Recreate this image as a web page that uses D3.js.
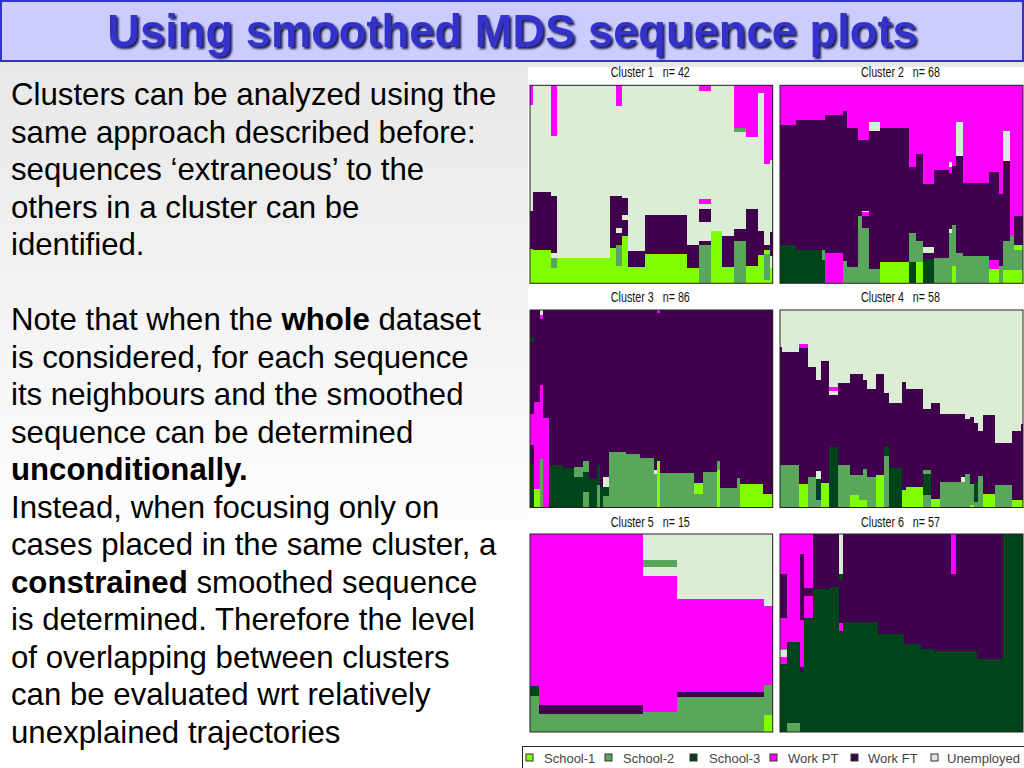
<!DOCTYPE html>
<html>
<head>
<meta charset="utf-8">
<script src="https://d3js.org/d3.v7.min.js"></script>
<style>
html,body{margin:0;padding:0;background:#fff;overflow:hidden}
svg{display:block}
</style>
</head>
<body>
<div id="chart"></div>
<script>
const titleText = "Using smoothed MDS sequence plots";
const bodyLines = [
  [["Clusters can be analyzed using the"]],
  [["same approach described before:"]],
  [["sequences ‘extraneous’ to the"]],
  [["others in a cluster can be"]],
  [["identified."]],
  [],
  [["Note that when the "],["whole",1],[" dataset"]],
  [["is considered, for each sequence"]],
  [["its neighbours and the smoothed"]],
  [["sequence can be determined"]],
  [["unconditionally.",1]],
  [["Instead, when focusing only on"]],
  [["cases placed in the same cluster, a"]],
  [["constrained",1],[" smoothed sequence"]],
  [["is determined. Therefore the level"]],
  [["of overlapping between clusters"]],
  [["can be evaluated wrt relatively"]],
  [["unexplained trajectories"]]
];

const stateKeys = ["A","B","C","P","F","U"];
const stateLabels = ["School-1","School-2","School-3","Work PT","Work FT","Unemployed"];
const stateColors = ["#7fff00","#5aa75c","#00441b","#ff00ff","#41004d","#dcedd6"];
const sequenceLength = 198;

const clusterIds = [1,2,3,4,5,6];
const clusterSizes = [42,68,86,58,15,57];

// Each run: [number of cases, state, cumulative top, state, cumulative top, ..., last state up to the end]
const cluster1Runs = [
  [1,"A",34,"F",72,"U",178,"P"],
  [3,"A",33,"F",91,"U"],
  [1,"A",15,"B",25,"U",30,"F",87,"U",147,"P"],
  [9,"A",25,"U"],
  [1,"A",35,"F",87,"U"],
  [1,"A",17,"B",38,"F",50,"U",55,"F",87,"U",177,"P"],
  [1,"A",47,"F",63,"U",68,"F",85,"U"],
  [3,"A",16,"F",32,"U"],
  [7,"A",29,"F",68,"U"],
  [2,"A",15,"F",38,"U"],
  [2,"B",38,"F",42,"U",61,"F",74,"U",79,"P",84,"U",192,"P"],
  [2,"A",52,"U"],
  [2,"A",16,"F",47,"U"],
  [2,"B",42,"F",54,"U",151,"B",155,"P"],
  [2,"A",17,"F",74,"U",146,"P"],
  [1,"A",28,"F",52,"U",190,"P"],
  [1,"A",3,"B",29,"A",33,"F",38,"U",119,"P"],
  [1,"A",15,"U",27,"F",51,"U",123,"P"]
];
const cluster2Runs = [
  [5,"C",38,"F",158,"P"],
  [7,"C",33,"F",163,"P"],
  [1,"C",23,"B",33,"F",163,"P"],
  [5,"P",30,"F",168,"P"],
  [1,"B",22,"F",172,"P"],
  [3,"B",16,"F",155,"P"],
  [1,"B",67,"F",143,"P"],
  [2,"B",55,"F",67,"P",71,"U",72,"F",143,"P"],
  [3,"B",14,"F",152,"U",161,"P"],
  [8,"A",21,"F",155,"P"],
  [2,"C",21,"B",50,"F",116,"P"],
  [2,"A",21,"B",42,"F",129,"P"],
  [3,"C",24,"F",30,"U",36,"F",99,"P"],
  [4,"B",25,"F",113,"P"],
  [1,"B",50,"U",54,"F",110,"P",116,"U",121,"P"],
  [1,"A",17,"B",58,"F",117,"P"],
  [2,"B",30,"F",127,"U",161,"P"],
  [7,"B",27,"F",100,"P"],
  [3,"A",14,"P",23,"F",111,"P"],
  [1,"B",17,"F",89,"P"],
  [2,"A",13,"B",42,"F",122,"U",152,"P"],
  [1,"A",13,"B",47,"P"],
  [3,"A",13,"B",33,"A",38,"F",67,"P"]
];
const cluster3Runs = [
  [2,"C",44,"F",63,"P",94,"F",166,"C",171,"F"],
  [2,"A",19,"P",106,"F"],
  [1,"B",49,"P",123,"F",189,"P",193,"U"],
  [2,"P",90,"F"],
  [5,"C",43,"F"],
  [4,"C",40,"F"],
  [3,"C",31,"B",41,"F"],
  [2,"B",16,"C",36,"B",47,"F"],
  [3,"C",29,"F"],
  [1,"B",23,"C",43,"F"],
  [1,"C",21,"F"],
  [2,"B",12,"C",21,"U",31,"F"],
  [6,"B",56,"F"],
  [5,"B",54,"F"],
  [5,"B",50,"F"],
  [1,"B",34,"U",38,"F"],
  [1,"A",47,"F",195,"P"],
  [12,"B",35,"F"],
  [3,"B",14,"A",25,"F"],
  [5,"B",36,"F"],
  [1,"A",38,"B",47,"F"],
  [6,"B",20,"F"],
  [1,"B",30,"F"],
  [8,"A",24,"F"],
  [4,"A",14,"F"]
];
const cluster4Runs = [
  [1,"B",43,"F",161,"U"],
  [4,"B",43,"F",156,"U"],
  [2,"A",24,"F",160,"P",164,"U"],
  [2,"B",31,"F",141,"U"],
  [1,"B",8,"C",29,"U",37,"F",128,"U"],
  [2,"A",25,"F",147,"U"],
  [2,"C",61,"F",113,"U",117,"P",121,"U"],
  [3,"B",43,"F",125,"U"],
  [2,"A",13,"B",33,"F",134,"U"],
  [1,"A",8,"B",33,"F",134,"U"],
  [1,"A",8,"B",39,"F",128,"U"],
  [2,"B",31,"F",119,"U"],
  [2,"A",33,"F",134,"U"],
  [1,"B",52,"C",62,"F",115,"U"],
  [3,"C",40,"F",105,"U"],
  [1,"A",18,"F",126,"U"],
  [4,"A",21,"F",119,"U"],
  [2,"B",13,"C",34,"B",38,"F",99,"U"],
  [2,"A",9,"F",105,"U"],
  [5,"B",26,"F",94,"U"],
  [1,"B",26,"U",31,"F",94,"U"],
  [1,"B",34,"F",89,"U"],
  [1,"A",3,"B",24,"F",91,"U"],
  [1,"B",6,"C",26,"F",85,"U"],
  [1,"B",32,"F",77,"U"],
  [3,"A",14,"F",93,"U"],
  [4,"B",23,"F",65,"U"],
  [2,"A",8,"F",77,"U"],
  [1,"A",8,"F",84,"U"]
];
const cluster5Runs = [
  [1,"B",36,"C",46,"P"],
  [6,"B",18,"F",27,"P"],
  [2,"B",20,"P",156,"U",165,"B",172,"U"],
  [5,"B",35,"F",40,"P",133,"U"],
  [1,"A",17,"B",47,"P",126,"U"]
];
const cluster6Runs = [
  [2,"C",68,"P",75,"U",82,"B",83,"P",114,"F",158,"P"],
  [3,"B",9,"C",90,"P"],
  [1,"C",60,"F",65,"P",112,"F",178,"P"],
  [2,"C",114,"P",136,"F",144,"P"],
  [4,"C",143,"F"],
  [2,"C",145,"F"],
  [1,"C",101,"P",109,"F",152,"C",158,"U"],
  [8,"C",110,"F"],
  [6,"C",98,"F"],
  [4,"C",88,"F"],
  [3,"C",83,"F"],
  [4,"C",81,"F"],
  [1,"C",81,"F",158,"P"],
  [5,"C",81,"F"],
  [6,"C",73,"F"],
  [5,"C"]
];
const clusterRuns = [cluster1Runs,cluster2Runs,cluster3Runs,cluster4Runs,cluster5Runs,cluster6Runs];

const W = 1024, H = 768;
const svg = d3.select("#chart").append("svg").attr("width",W).attr("height",H).attr("viewBox",[0,0,W,H]);

const defs = svg.append("defs");
const grad = defs.append("linearGradient").attr("id","slideBg").attr("x1",0).attr("x2",0).attr("y1",0).attr("y2",1);
grad.append("stop").attr("offset",0).attr("stop-color","#e8e8e8");
grad.append("stop").attr("offset",0.72).attr("stop-color","#ffffff");
grad.append("stop").attr("offset",1).attr("stop-color","#ffffff");

svg.append("rect").attr("x",0).attr("y",62).attr("width",W).attr("height",H-62).attr("fill","url(#slideBg)");

// Title bar
svg.append("rect").attr("x",1).attr("y",1).attr("width",W-2).attr("height",60)
  .attr("fill","#ccccff").attr("stroke","#3333cc").attr("stroke-width",2);
svg.append("text").attr("x",512.5).attr("y",47).attr("text-anchor","middle")
  .attr("font-family","'Liberation Sans',Arial,sans-serif").attr("font-weight","bold").attr("font-size",45.3)
  .attr("fill","#3333cc").style("filter","drop-shadow(2px 2px 1px #1a1a40)")
  .text(titleText);

// Body text
const bodyG = svg.append("g").attr("font-family","'Liberation Sans',Arial,sans-serif").attr("font-size",31.2).attr("fill","#000");
const lineY = d3.scaleLinear().domain([0,17]).range([105,742.5]);
bodyG.selectAll("text").data(bodyLines).join("text")
  .attr("x",11).attr("y",(d,i)=>lineY(i))
  .each(function(segs){
    d3.select(this).selectAll("tspan").data(segs).join("tspan")
      .attr("font-weight",s=>s[1]?"bold":"normal").text(s=>s[0]);
  });

// White plot background
svg.append("rect").attr("x",528).attr("y",67).attr("width",W-528).attr("height",679).attr("fill","#fff");

// Panels
const colX = [[530,772.7],[780,1023]];
const rowY = [[85.3,283.3],[310,507.5],[534,732]];
const titleY = [77,302,527];
const color = d3.scaleOrdinal().domain(stateKeys).range(stateColors);

clusterIds.forEach((id,i)=>{
  const n = clusterSizes[i];
  const cx = colX[i%2], ry = rowY[Math.floor(i/2)];
  const x = d3.scaleLinear().domain([0,n-1]).range(cx).clamp(true);
  const y = d3.scaleLinear().domain([0,sequenceLength]).range([ry[1],ry[0]]);
  const cells = [];
  let k = 0;
  clusterRuns[i].forEach(run=>{
    const count = run[0];
    let bottom = 0;
    for(let j=1;j<run.length;j+=2){
      const top = j+1<run.length ? run[j+1] : sequenceLength;
      cells.push({k0:k-0.5,k1:k+count-0.5,bottom,top,state:run[j]});
      bottom = top;
    }
    k += count;
  });
  const g = svg.append("g").attr("class","cluster");
  g.selectAll("rect").data(cells).join("rect")
    .attr("x",d=>x(d.k0)).attr("width",d=>x(d.k1)-x(d.k0))
    .attr("y",d=>y(d.top)).attr("height",d=>y(d.bottom)-y(d.top))
    .attr("fill",d=>color(d.state)).attr("shape-rendering","crispEdges");
  g.append("rect").attr("x",cx[0]).attr("y",ry[0]).attr("width",cx[1]-cx[0]).attr("height",ry[1]-ry[0])
    .attr("fill","none").attr("stroke","#222").attr("stroke-width",1);
  g.append("text").attr("x",(cx[0]+cx[1])/2-1).attr("y",titleY[Math.floor(i/2)]).attr("text-anchor","middle")
    .attr("font-family","'Liberation Sans',sans-serif").attr("font-size",14).attr("fill","#111")
    .attr("textLength",79).attr("lengthAdjust","spacingAndGlyphs")
    .style("white-space","pre")
    .text(`Cluster ${id}   n= ${n}`);
});

// Legend
const legendSwatchX = [526,605,690,770,851,931];
const legendTextX = [544,623,709,788,868,947];
svg.append("rect").attr("x",522.5).attr("y",746.5).attr("width",W-522).attr("height",24)
  .attr("fill","#fff").attr("stroke","#222").attr("stroke-width",1);
const legend = svg.append("g").selectAll("g").data(stateKeys).join("g");
legend.append("rect").attr("x",(d,i)=>legendSwatchX[i]).attr("y",754).attr("width",7).attr("height",7)
  .attr("fill",d=>color(d)).attr("stroke","#333").attr("stroke-width",1);
legend.append("text").attr("x",(d,i)=>legendTextX[i]).attr("y",763)
  .attr("font-family","'Liberation Sans',Arial,sans-serif").attr("font-size",13).attr("fill","#444")
  .text((d,i)=>stateLabels[i]);
</script>
</body>
</html>
